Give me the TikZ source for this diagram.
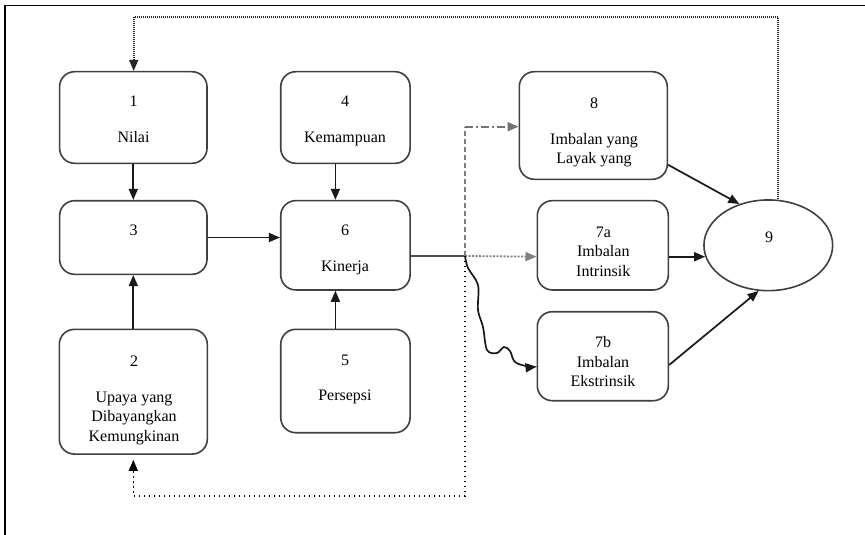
\documentclass[tikz,border=0pt]{standalone}
\usepackage{fontspec}
\setmainfont{Liberation Serif}
\usetikzlibrary{arrows.meta,shapes.geometric}
\tikzset{
  boxnode/.style={draw=black!75, line width=1.6pt, rounded corners=15pt, rectangle, inner sep=0pt},
  txt/.style={font=\fontsize{16}{19.5}\selectfont, align=center, inner sep=0pt},
  tip/.style={-{Triangle[length=11pt,width=9pt]}},
  arr/.style={tip, line width=1.7pt, draw=black!90},
  plainline/.style={line width=1.7pt, draw=black!70},
  fbtop/.style={line width=1.6pt, dash pattern=on 1pt off 1pt, draw=black!85},
  fbbot/.style={line width=1.5pt, dash pattern=on 1.3pt off 3.7pt, draw=black},
  dotgray/.style={line width=1.8pt, dash pattern=on 2pt off 1.5pt, draw=black!50},
  dashgray/.style={line width=1.8pt, dash pattern=on 5pt off 3pt, draw=black!50},
  dashdotgray/.style={line width=1.8pt, dash pattern=on 8pt off 3pt on 2pt off 3pt, draw=black!55},
}
\begin{document}
\begin{tikzpicture}[x=1pt,y=-1pt]
\useasboundingbox (0,0) rectangle (865,535);
% frame
\draw[line width=1.8pt] (4,5.5) -- (865,5.5);
\draw[line width=1.8pt] (5,5) -- (5,535);
% boxes
\node[boxnode, minimum width=147.4pt, minimum height=91.6pt] (b1) at (133.3,117.5) {};
\node[boxnode, minimum width=147.4pt, minimum height=73.6pt] (b3) at (133.3,237.5) {};
\node[boxnode, minimum width=148pt, minimum height=124.7pt] (b2) at (133.3,391.7) {};
\node[boxnode, minimum width=129.3pt, minimum height=91.6pt] (b4) at (345.4,117.5) {};
\node[boxnode, minimum width=129.3pt, minimum height=89.3pt] (b6) at (345.4,245.3) {};
\node[boxnode, minimum width=129.3pt, minimum height=103.4pt] (b5) at (345.4,381) {};
\node[boxnode, minimum width=148pt, minimum height=107.6pt] (b8) at (593.3,125.5) {};
\node[boxnode, minimum width=131pt, minimum height=89.3pt] (b7a) at (602.8,245.3) {};
\node[boxnode, minimum width=131pt, minimum height=89pt] (b7b) at (602.8,356.2) {};
\node[ellipse, draw=black!75, line width=1.6pt, minimum width=128.7pt, minimum height=90.7pt, inner sep=0pt] (n9) at (768.3,245.3) {};
% texts
\node[txt] (t1) at (133.5,120.5) {\strut 1\\[15.8pt]\strut Nilai};
\node[txt] (t3) at (133.5,231.1) {\strut 3};
\node[txt] (t2) at (134,399.6) {\strut 2\\[16.5pt]\strut Upaya yang\\\strut Dibayangkan\\\strut Kemungkinan};
\node[txt] (t4) at (345,120.5) {\strut 4\\[15.8pt]\strut Kemampuan};
\node[txt] (t6) at (345,249.5) {\strut 6\\[15.8pt]\strut Kinerja};
\node[txt] (t5) at (345,378.6) {\strut 5\\[15.5pt]\strut Persepsi};
\node[txt] (t8) at (594,132) {\strut 8\\[16.5pt]\strut Imbalan yang\\\strut Layak yang};
\node[txt] (t7a) at (603.3,252.8) {\strut 7a\\\strut Imbalan\\\strut Intrinsik};
\node[txt] (t7b) at (603,363.3) {\strut 7b\\\strut Imbalan\\\strut Ekstrinsik};
\node[txt] (t9) at (769,238.4) {\strut 9};
% coordinates
\coordinate (J) at (465,256);
\coordinate (K) at (465,126.7);
\coordinate (L) at (465,496);
\coordinate (topL) at (133.7,17.3);
\coordinate (W) at ([yshift=-10.5pt]b7b.west);
% solid arrows
\draw[arr] (b1.south) -- (b3.north);
\draw[arr] (b2.north) -- (b3.south);
\draw[arr] (b3.east) -- (b3.east -| b6.west);
\draw[arr] ([xshift=-10pt]b4.south) -- ([xshift=-10pt]b6.north);
\draw[arr] ([xshift=-10pt]b5.north) -- ([xshift=-10pt]b6.south);
\draw[plainline] (b6.east |- J) -- (J);
\draw[arr] ([yshift=-11.4pt]b7a.east) -- ([yshift=-11.4pt,xshift=2pt]b7a.east -| n9.west);
\draw[arr] ([yshift=15.3pt]b8.south east) -- (n9.125);
\draw[arr] ([yshift=-8.8pt]b7b.east) -- (n9.258);
% from junction
\draw[dotgray, tip] (J) -- ([yshift=-11.4pt]b7a.west);
\draw[dashgray] (J) -- (K);
\draw[dashdotgray, tip] (K) -- (K -| b8.west);
\draw[fbbot, tip, shorten >=5pt] (J) -- (L) -| (b2.south);
\draw[arr] plot[smooth, tension=0.55] coordinates {(J) (468,268) (478,285) (478,310) (483,327) (487,350) (497,353) (504,347) (510,351) (515,362) (528,366.5) (W)};
% top feedback
\draw[fbtop, tip] ([xshift=9.4pt]n9.north) |- (topL) -- (topL |- b1.north);
\end{tikzpicture}
\end{document}
